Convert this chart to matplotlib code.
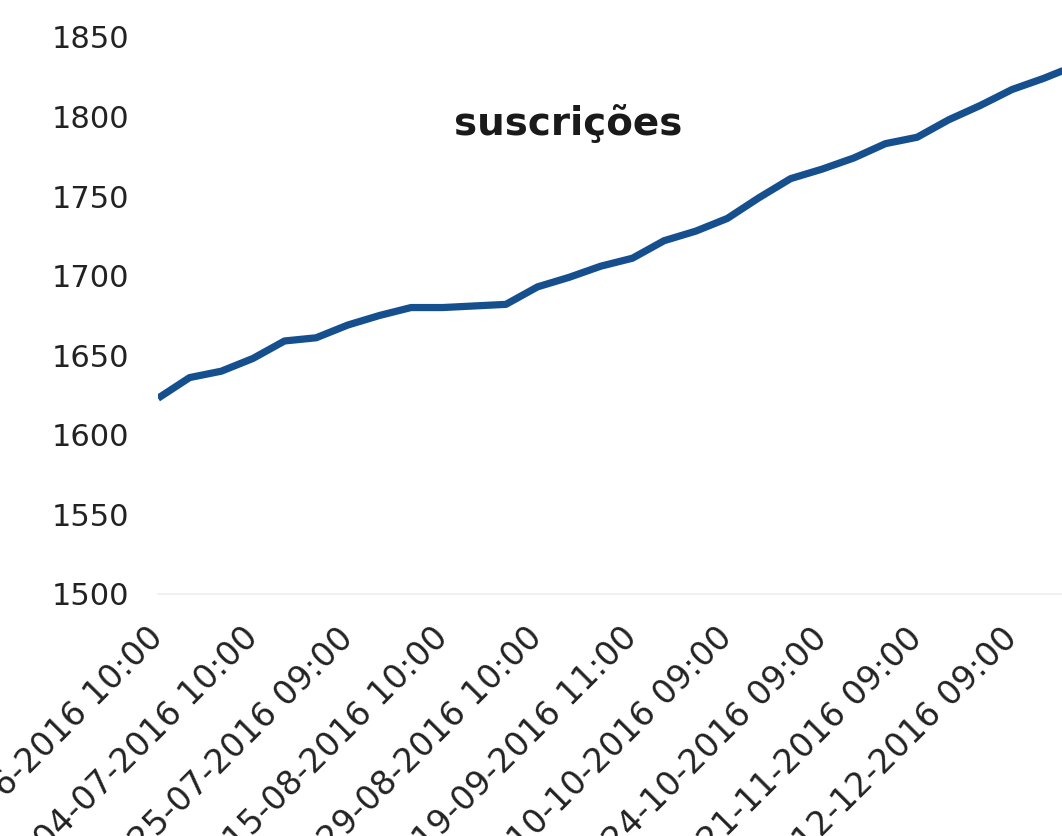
import matplotlib
matplotlib.use("Agg")
import matplotlib.pyplot as plt

dates = [
    "13-06-2016 10:00", "20-06-2016 10:00", "27-06-2016 10:00", "04-07-2016 10:00",
    "11-07-2016 10:00", "18-07-2016 10:00", "25-07-2016 09:00", "01-08-2016 10:00",
    "08-08-2016 10:00", "15-08-2016 10:00", "19-08-2016 10:00", "22-08-2016 10:00",
    "29-08-2016 10:00", "05-09-2016 10:00", "12-09-2016 10:00", "19-09-2016 11:00",
    "26-09-2016 10:00", "03-10-2016 09:00", "10-10-2016 09:00", "14-10-2016 09:00",
    "17-10-2016 09:00", "24-10-2016 09:00", "07-11-2016 09:00", "14-11-2016 09:00",
    "21-11-2016 09:00", "28-11-2016 09:00", "05-12-2016 09:00", "12-12-2016 09:00",
    "19-12-2016 09:00", "26-12-2016 09:00",
]
subscriptions = [
    1623, 1636, 1640, 1648, 1659, 1661, 1669, 1675, 1680, 1680,
    1681, 1682, 1693, 1699, 1706, 1711, 1722, 1728, 1736, 1749,
    1761, 1767, 1774, 1783, 1787, 1798, 1807, 1817, 1824, 1832,
]
title = "suscrições"
y_ticks = [1500, 1550, 1600, 1650, 1700, 1750, 1800, 1850]

W, H = 1062, 836
fig = plt.figure(figsize=(W / 100, H / 100), dpi=100)
ax = fig.add_axes([158 / W, 1 - 594 / H, 1 - 158 / W, (594 - 37) / H])

x = list(range(len(dates)))
ax.plot(x, subscriptions, color="#154f8e", linewidth=5.2, solid_capstyle="butt",
        solid_joinstyle="round")

# visible window is a crop of a wider chart: category step ~31.6 px
ax.set_xlim(0, (W - 158) / 31.63)
ax.set_ylim(1500, 1850)
ax.set_yticks(y_ticks)
ax.set_yticklabels([str(v) for v in y_ticks], fontsize=22, color="#222222")

shown = x[::3][:10]
ax.set_xticks(shown)
ax.set_xticklabels([dates[i] for i in shown], rotation=45, ha="right",
                   rotation_mode="anchor", va="center", fontsize=24, color="#222222")
ax.tick_params(axis="both", length=0)
ax.tick_params(axis="y", pad=21)
ax.tick_params(axis="x", pad=28)
for name, s in ax.spines.items():
    s.set_visible(name == "bottom")
ax.spines["bottom"].set_color("#eeeeee")
ax.spines["bottom"].set_linewidth(1.2)

fig.text(568 / W, 1 - 124 / H, title, ha="center", va="center",
         fontsize=28, fontweight="bold", color="#1a1a1a")

fig.savefig("out.png", dpi=100)
